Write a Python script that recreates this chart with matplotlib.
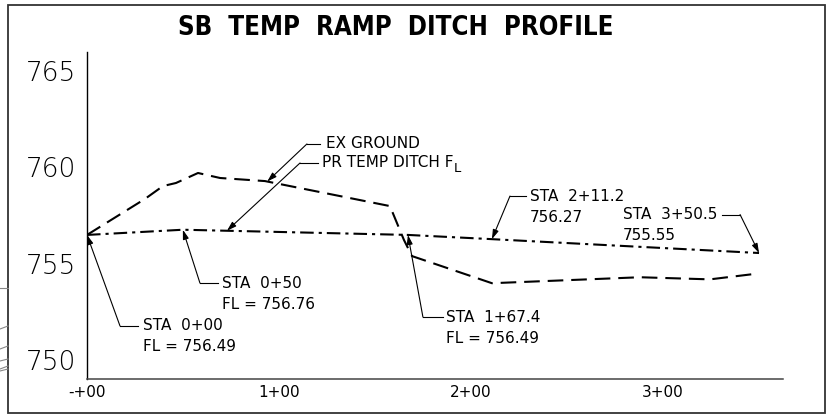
import matplotlib
matplotlib.use('Agg')
import matplotlib.pyplot as plt
import numpy as np
from matplotlib.patches import Rectangle
from matplotlib.lines import Line2D

# proposed ditch flowline (station in ft, elevation in ft)
fl_sta = [0, 50, 167.4, 211.2, 350.5]
fl_elev = [756.49, 756.76, 756.49, 756.27, 755.55]
fl_prefix = ['FL = ', 'FL = ', 'FL = ', '', '']

# existing ground along the ditch
ground_sta = [0, 30.2, 39.6, 46.4, 57.9, 69.4, 92.8, 158.0, 165.3, 169.5,
              211.2, 288.4, 324.9, 350.5]
ground_elev = [756.49, 758.36, 759.03, 759.19, 759.71, 759.45, 759.29, 757.99,
               756.23, 755.39, 753.98, 754.29, 754.18, 754.49]

x_ticks = [0, 100, 200, 300]
x_ticklabels = ['-+00', '1+00', '2+00', '3+00']
y_ticks = [750, 755, 760, 765]

# leader layout for each flowline callout: elbow (sta, elev), end of the
# horizontal tick, text x position
fl_callouts = [
    dict(elbow=(17.2, 751.76), bar=26.6, tx=29.2),
    dict(elbow=(58.9, 753.99), bar=68.3, tx=70.4),
    dict(elbow=(175.2, 752.22), bar=185.7, tx=187.2),
    dict(elbow=(220.6, 758.51), bar=229.0, tx=231.0),
    dict(elbow=(340.6, 757.55), bar=331.2, tx=279.5),
]


def sta_text(s):
    h = int(s // 100)
    r = s - 100 * h
    if float(r).is_integer():
        return '%d+%02d' % (h, int(r))
    return '%d+%04.1f' % (h, r)


W, H = 827, 416
fig = plt.figure(figsize=(W / 100, H / 100), dpi=100)
ax = fig.add_axes([87 / W, 1 - 379 / H, (783 - 87) / W, (379 - 52) / H])

ax.plot(ground_sta, ground_elev, color='black', lw=1.5,
        linestyle=(0, (7.5, 3.8)), dash_capstyle='butt')
ax.plot(fl_sta, fl_elev, color='black', lw=1.5,
        linestyle=(0, (6.5, 2.4, 1.5, 2.4)), dash_capstyle='butt')

ax.set_xlim(0, 363)
ax.set_ylim(749, 766)
ax.set_xticks(x_ticks)
ax.set_xticklabels(x_ticklabels)
ax.set_yticks(y_ticks)
ax.tick_params(axis='both', length=0)
ax.tick_params(axis='x', pad=4.5, labelsize=11)
ax.tick_params(axis='y', pad=8, labelsize=19)
for lab in ax.get_yticklabels():
    lab.set_fontweight(200)
for s in ['top', 'right']:
    ax.spines[s].set_visible(False)
ax.spines['left'].set_linewidth(1.0)
ax.spines['bottom'].set_linewidth(1.1)
ax.spines['bottom'].set_color('#444444')

arrow = dict(arrowstyle='-|>,head_length=0.7,head_width=0.22', color='black',
             lw=0.8, shrinkA=0, shrinkB=0, mutation_scale=8)
txt = dict(fontsize=11, color='black', va='center')


def leader(tip, elbow, bar_x):
    ax.annotate('', xy=tip, xytext=elbow, arrowprops=arrow)
    ax.plot([elbow[0], bar_x], [elbow[1], elbow[1]], color='black', lw=0.8)


for s, e, pre, c in zip(fl_sta, fl_elev, fl_prefix, fl_callouts):
    leader((s, e), c['elbow'], c['bar'])
    lines = ['STA  ' + sta_text(s), '%s%.2f' % (pre, e)]
    for i, line in enumerate(lines):
        ax.annotate(line, xy=(c['tx'], c['elbow'][1]), xytext=(0, -21 * i),
                    textcoords='offset pixels', ha='left', **txt)

# line-type callouts
g_tip = 94.0
leader((g_tip, np.interp(g_tip, ground_sta, ground_elev)), (114.7, 761.22), 121.5)
ax.text(124.6, 761.22, 'EX GROUND', **txt)
p_tip = 73.0
leader((p_tip, np.interp(p_tip, fl_sta, fl_elev)), (111.1, 760.23), 120.5)
t = ax.text(122.6, 760.23, 'PR TEMP DITCH F', **txt)
# flowline symbol: small L set low beside the F
ax.annotate('L', xy=(1, 0.5), xycoords=t, xytext=(0, -6),
            textcoords='offset pixels', ha='left', va='center', fontsize=9.5)

fig.text(0.479, 1 - 28 / H, 'SB  TEMP  RAMP  DITCH  PROFILE', ha='center',
         va='center', fontsize=18.5, fontweight='bold', fontstretch='condensed',
         family=['Liberation Sans Narrow', 'DejaVu Sans'])

# sheet border
fig.add_artist(Rectangle((8 / W, 3 / H), (825 - 8) / W, (413 - 5) / H,
                         transform=fig.transFigure, fill=False, lw=1.3,
                         ec='#333333'))
# neighbouring linework cut off at the sheet edge
for y0, y1 in [(288, 288), (329, 326), (349, 346), (361, 359), (369, 366), (371, 369)]:
    fig.add_artist(Line2D([0, 8 / W], [1 - y0 / H, 1 - y1 / H],
                          transform=fig.transFigure, color='#888888', lw=0.8))

fig.savefig('out.png', dpi=100)
